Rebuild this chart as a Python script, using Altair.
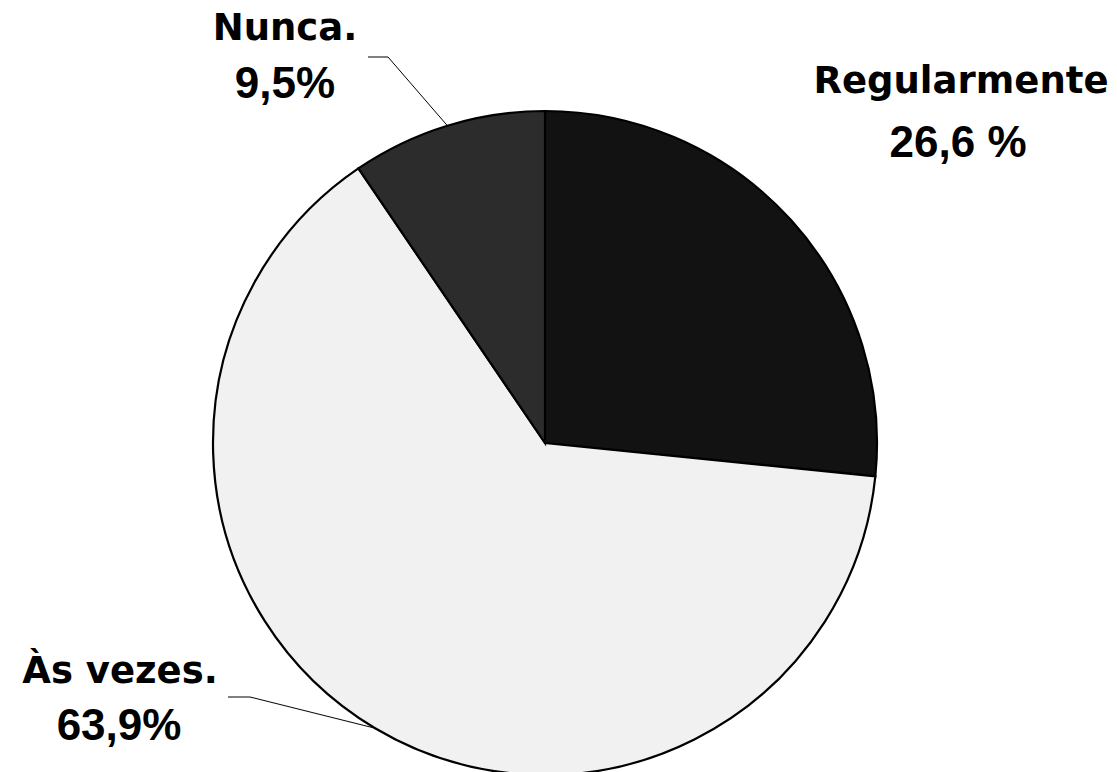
import math
import altair as alt
import pandas as pd

# ---- data ----
categories = ["Regularmente", "Às vezes.", "Nunca."]
percent = [26.6, 63.9, 9.5]
value_labels = ["26,6 %", "63,9%", "9,5%"]

# ---- styles / layout (not data) ----
fills = ["#121212", "#f1f1f1", "#2c2c2c"]
TOP = 12  # top padding, y values below are page-y minus 8 minus TOP
W, H = 1101, 764 - TOP
CX, CY, R = 537, 435 - TOP, 332
LABEL_FONT = "DejaVu Sans"
VALUE_FONT = "Liberation Sans"
# label centre x, label baseline y, value centre x, value baseline y (chart coords before TOP shift)
label_layout = {
    "Regularmente": (953, 85, 950, 149),
    "Às vezes.": (112, 675, 111, 732),
    "Nunca.": (277, 32, 277, 90),
}
# leader line start (horizontal stub) for labelled slices
leader_layout = {
    "Nunca.": ((360, 49), (380, 49)),
    "Às vezes.": ((220, 689), (242, 689)),
}

pie = pd.DataFrame({"category": categories, "percent": percent,
                    "order": list(range(len(categories)))})

lab_rows, val_rows = [], []
for c, v in zip(categories, value_labels):
    lx, ly, vx, vy = label_layout[c]
    lab_rows.append({"text": c, "x": lx, "y": ly - TOP})
    val_rows.append({"text": v, "x": vx, "y": vy - TOP})
labels = pd.DataFrame(lab_rows)
values = pd.DataFrame(val_rows)

# leader end points at slice mid-angles on the rim
total = sum(percent)
cum = 0.0
seg_rows = []
for c, p in zip(categories, percent):
    mid = (cum + p / 2) / total * 2 * math.pi
    cum += p
    if c in leader_layout:
        (x0, y0), (x1, y1) = leader_layout[c]
        y0 -= TOP
        y1 -= TOP
        ex = CX + R * math.sin(mid)
        ey = CY - R * math.cos(mid)
        seg_rows.append({"x": x0, "y": y0, "x2": x1, "y2": y1})
        seg_rows.append({"x": x1, "y": y1, "x2": ex, "y2": ey})
segs = pd.DataFrame(seg_rows)

arcs = alt.Chart(pie).mark_arc(radius=R, stroke="black", strokeWidth=2.2).encode(
    theta=alt.Theta("percent:Q", stack=True),
    color=alt.Color("category:N", scale=alt.Scale(domain=categories, range=fills), legend=None),
    order=alt.Order("order:Q"),
    x=alt.value(CX),
    y=alt.value(CY),
)

leaders = alt.Chart(segs).mark_rule(color="black", strokeWidth=1).encode(
    x=alt.X("x:Q", scale=None), y=alt.Y("y:Q", scale=None),
    x2="x2:Q", y2="y2:Q",
)

label_text = alt.Chart(labels).mark_text(
    font=LABEL_FONT, fontSize=37, fontWeight="bold", align="center", baseline="alphabetic", color="black"
).encode(x=alt.X("x:Q", scale=None), y=alt.Y("y:Q", scale=None), text="text:N")

value_text = alt.Chart(values).mark_text(
    font=VALUE_FONT, fontSize=44, fontWeight="bold", align="center", baseline="alphabetic", color="black"
).encode(x=alt.X("x:Q", scale=None), y=alt.Y("y:Q", scale=None), text="text:N")

chart = alt.layer(arcs, leaders, label_text, value_text).properties(
    width=W, height=H, autosize="none",
    padding={"left": 0, "top": TOP, "right": 0, "bottom": 0},
).configure_view(stroke=None)

chart.save("out.html", embed_options={"renderer": "svg", "actions": False})
